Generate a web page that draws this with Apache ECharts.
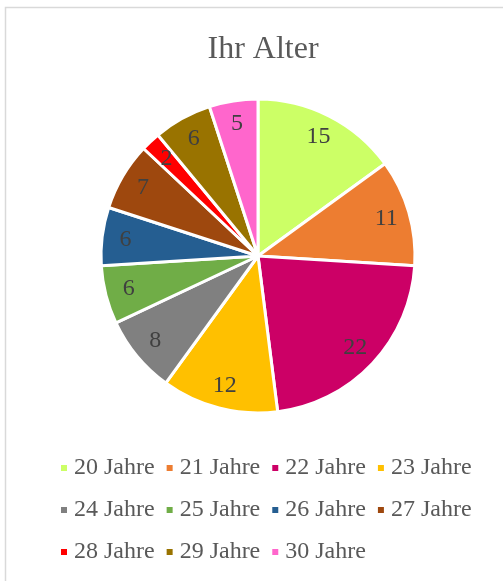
<!DOCTYPE html>
<html>
<head>
    <meta charset="utf-8" />
    <title>Ihr Alter</title>
    <script src="https://cdn.jsdelivr.net/npm/echarts@6/dist/echarts.min.js"></script>
    <style>
        html, body { margin: 0; padding: 0; background: #fff; }
        #main { width: 503px; height: 581px; }
    </style>
</head>
<body>
    <div id="main"></div>
    <script>
        // Daten
        var categories = ['20 Jahre', '21 Jahre', '22 Jahre', '23 Jahre', '24 Jahre', '25 Jahre',
                          '26 Jahre', '27 Jahre', '28 Jahre', '29 Jahre', '30 Jahre'];
        var values = [15, 11, 22, 12, 8, 6, 6, 7, 2, 6, 5];
        var colors = ['#ccff66', '#ed7d31', '#cc0066', '#ffc000', '#808080', '#70ad47',
                      '#255e91', '#9e480e', '#ff0000', '#997300', '#ff66cc'];

        var serif = '"Liberation Serif", "Times New Roman", serif';

        var pieData = categories.map(function (c, i) {
            return { name: c, value: values[i], itemStyle: { color: colors[i] } };
        });
        // unsichtbarer Ring nur fuer die Beschriftung (weiter aussen als Standard)
        var labelData = categories.map(function (c, i) {
            return { name: c, value: values[i] };
        });

        var myChart = echarts.init(document.getElementById('main'));
        var option = {
            backgroundColor: '#fff',
            animation: false,
            title: {
                text: 'Ihr Alter',
                left: 258,
                textAlign: 'center',
                top: 29,
                textStyle: { fontFamily: serif, fontSize: 32, fontWeight: 'normal', color: '#595959' }
            },
            graphic: [{
                type: 'rect',
                shape: { x: 5.5, y: 7.5, width: 600, height: 700 },
                style: { fill: 'none', stroke: '#d9d9d9', lineWidth: 1.5 },
                silent: true
            }],
            legend: {
                data: categories,
                left: 59,
                top: 452,
                width: 430,
                padding: 0,
                itemWidth: 8,
                itemHeight: 8,
                itemGap: 10,
                icon: 'rect',
                textStyle: { fontFamily: serif, fontSize: 24, color: '#595959', lineHeight: 32, padding: [0, 0, 0, 1] }
            },
            series: [
                {
                    type: 'pie',
                    center: [258, 256],
                    radius: [0, 157],
                    startAngle: 90,
                    clockwise: true,
                    label: { show: false },
                    labelLine: { show: false },
                    itemStyle: { borderColor: '#fff', borderWidth: 3 },
                    emphasis: { disabled: true },
                    data: pieData
                },
                {
                    type: 'pie',
                    center: [258, 256],
                    radius: [104, 157],
                    startAngle: 90,
                    clockwise: true,
                    silent: true,
                    legendHoverLink: false,
                    itemStyle: { color: 'transparent', borderWidth: 0 },
                    label: {
                        show: true,
                        position: 'inside',
                        formatter: '{c}',
                        fontFamily: serif,
                        fontSize: 24,
                        color: '#404040'
                    },
                    labelLine: { show: false },
                    emphasis: { disabled: true },
                    data: labelData
                }
            ]
        };
        myChart.setOption(option);
    </script>
</body>
</html>
